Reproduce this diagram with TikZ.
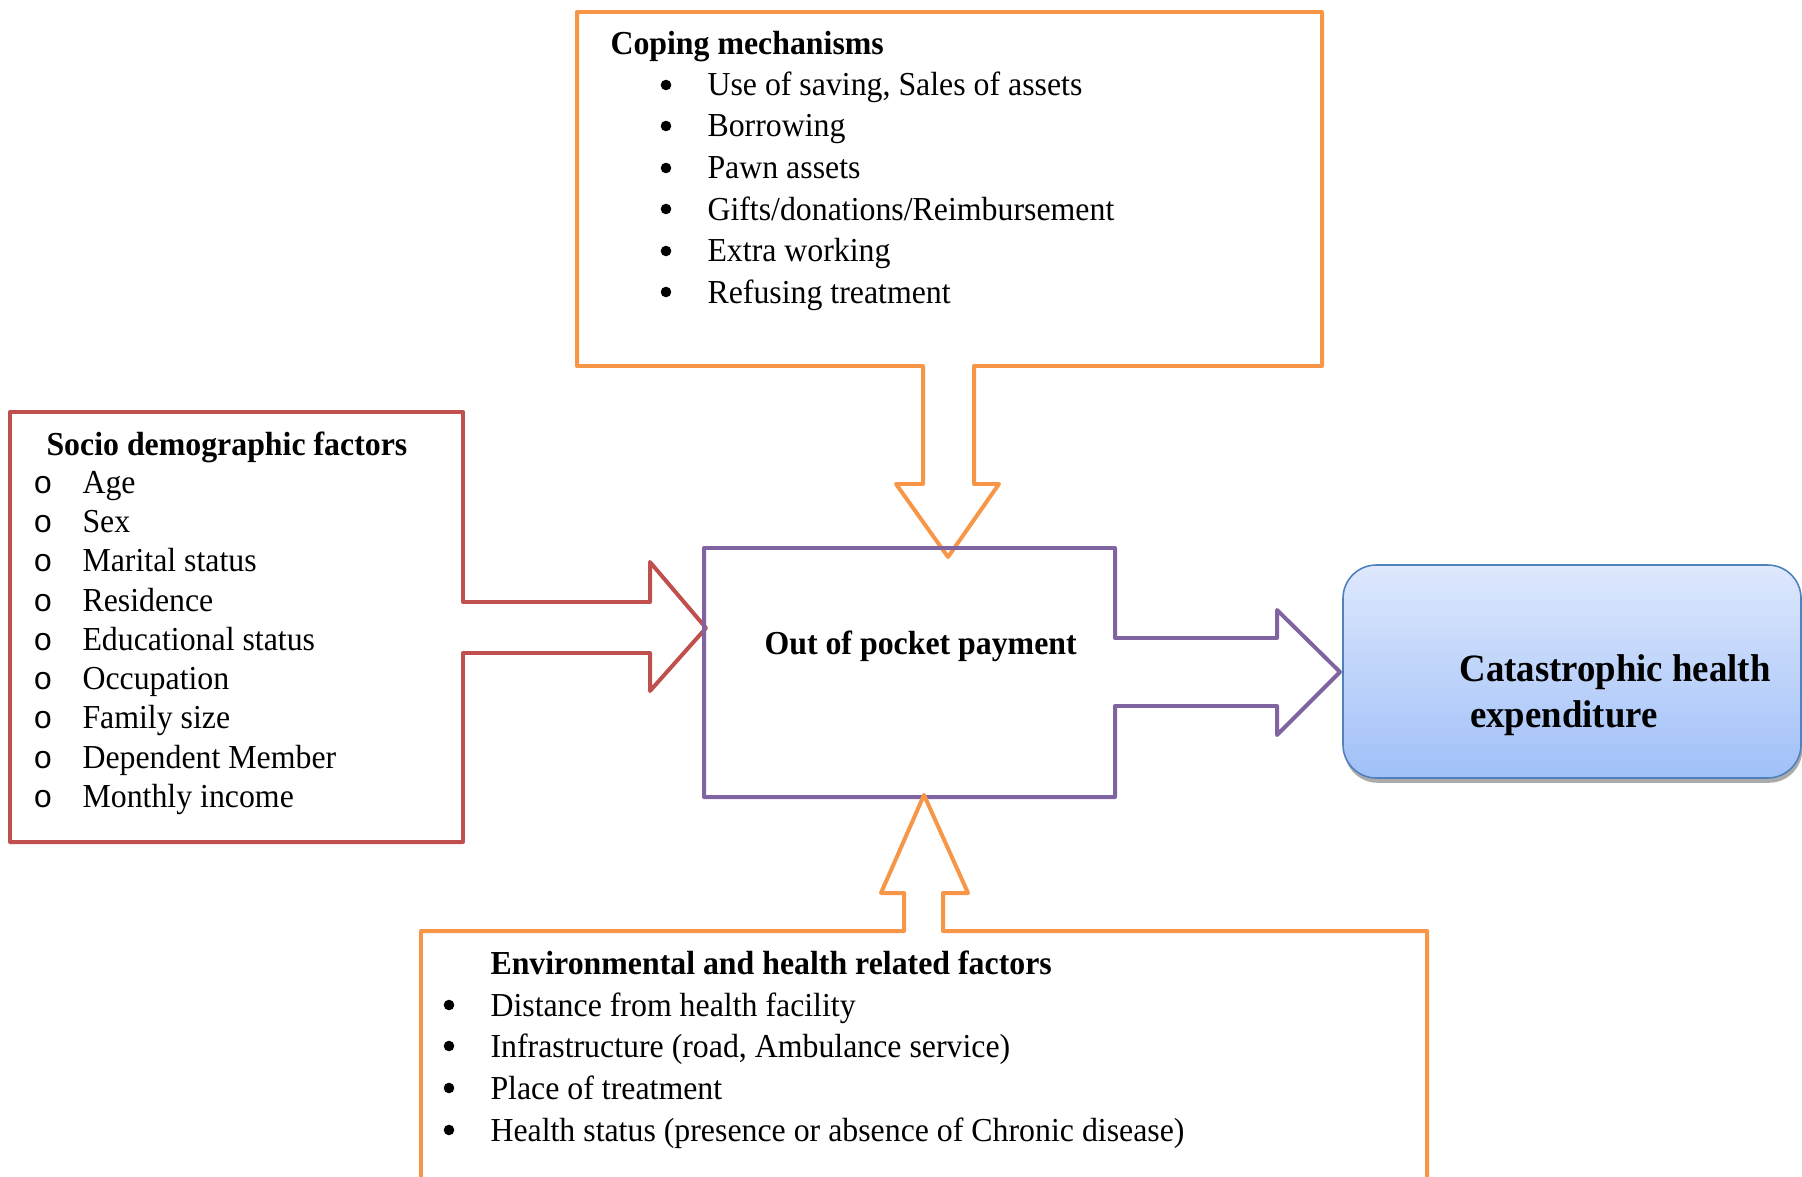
\documentclass[tikz,border=0pt]{standalone}
\usepackage{fontspec}
\setmainfont{Liberation Serif}[FakeStretch=0.95]
\newfontfamily\ringfont{Liberation Mono}
\usetikzlibrary{calc}
\usetikzlibrary{shadows}

\definecolor{copeorange}{HTML}{F79646}
\definecolor{socred}{HTML}{C0504D}
\definecolor{ooppurple}{HTML}{8064A2}
\definecolor{catblue}{HTML}{4F81BD}
\definecolor{cattop}{HTML}{DEE8FD}
\definecolor{catbot}{HTML}{A0C0F8}

\newcommand{\Bf}{\fontsize{12.6}{15}\selectfont}

\tikzset{
  box line/.style={line width=1.5pt, line join=round},
  list text/.style={anchor=base west, inner sep=0pt, font=\Bf},
  head text/.style={list text, font=\Bf\bfseries},
  dot mark/.style={circle, fill=black, inner sep=0pt, minimum size=0.14cm},
  ring mark/.style={anchor=base, inner sep=0pt, font=\ringfont\fontsize{12}{14}\selectfont},
  cat box/.style={draw=catblue, line width=0.6pt, top color=cattop, bottom color=catbot,
    rounded corners=0.44cm,
    drop shadow={shadow xshift=0.5pt, shadow yshift=-1.8pt, fill=black!55, opacity=0.6}},
}

\begin{document}
\begin{tikzpicture}[x=0.01322cm, y=-0.01322cm]
\useasboundingbox (0,0) rectangle (1802,1177);

%%%%%%%%%%%%%%%%%%%%%%%%%%%%%%%%%%%%%%%%%%%%%%%%%%%%%%%%%%%%%% coping
\coordinate (C) at (577, 12);

\draw[box line, copeorange] (C) -- ($(C)+(745,0)$) -- ($(C)+(745,354)$)
  -- ($(C)+(397,354)$) -- ($(C)+(397,472)$) -- ($(C)+(422,472)$)
  -- ($(C)+(371,545)$)
  -- ($(C)+(319,472)$) -- ($(C)+(346,472)$) -- ($(C)+(346,354)$)
  -- ($(C)+(0,354)$) -- cycle;

\node[head text] (copehead) at ($(C)+(33,43)$) {Coping mechanisms};
\node[dot mark] (cdot1) at ($(C)+(89,73)$) {};
\node[dot mark] (cdot2) at ($(C)+(89,114)$) {};
\node[dot mark] (cdot3) at ($(C)+(89,156)$) {};
\node[dot mark] (cdot4) at ($(C)+(89,197)$) {};
\node[dot mark] (cdot5) at ($(C)+(89,239)$) {};
\node[dot mark] (cdot6) at ($(C)+(89,280)$) {};
\node[list text] (cope1) at ($(C)+(130,84)$) {Use of saving, Sales of assets};
\node[list text] (cope2) at ($(C)+(130,125)$) {Borrowing};
\node[list text] (cope3) at ($(C)+(130,167)$) {Pawn assets};
\node[list text] (cope4) at ($(C)+(130,208)$) {Gifts/donations/Reimbursement};
\node[list text] (cope5) at ($(C)+(130,250)$) {Extra working};
\node[list text] (cope6) at ($(C)+(130,291)$) {Refusing treatment};

%%%%%%%%%%%%%%%%%%%%%%%%%%%%%%%%%%%%%%%%%%%%%%%%%%%%%%%%%%%%%% socio
\coordinate (S) at (10, 412);

\draw[box line, socred] (S) -- ($(S)+(453,0)$) -- ($(S)+(453,190)$)
  -- ($(S)+(640,190)$) -- ($(S)+(640,150)$)
  -- ($(S)+(696,216)$)
  -- ($(S)+(640,279)$) -- ($(S)+(640,241)$) -- ($(S)+(453,241)$)
  -- ($(S)+(453,430)$) -- ($(S)+(0,430)$) -- cycle;

\node[head text] (sochead) at ($(S)+(36,43)$) {Socio demographic factors};
\node[ring mark] (sring1) at ($(S)+(33,81)$) {o};
\node[ring mark] (sring2) at ($(S)+(33,120)$) {o};
\node[ring mark] (sring3) at ($(S)+(33,159.5)$) {o};
\node[ring mark] (sring4) at ($(S)+(33,199)$) {o};
\node[ring mark] (sring5) at ($(S)+(33,238)$) {o};
\node[ring mark] (sring6) at ($(S)+(33,277)$) {o};
\node[ring mark] (sring7) at ($(S)+(33,316.5)$) {o};
\node[ring mark] (sring8) at ($(S)+(33,356)$) {o};
\node[ring mark] (sring9) at ($(S)+(33,395)$) {o};
\node[list text] (soc1) at ($(S)+(72,81)$) {Age};
\node[list text] (soc2) at ($(S)+(72,120)$) {Sex};
\node[list text] (soc3) at ($(S)+(72,159.5)$) {Marital status};
\node[list text] (soc4) at ($(S)+(72,199)$) {Residence};
\node[list text] (soc5) at ($(S)+(72,238)$) {Educational status};
\node[list text] (soc6) at ($(S)+(72,277)$) {Occupation};
\node[list text] (soc7) at ($(S)+(72,316.5)$) {Family size};
\node[list text] (soc8) at ($(S)+(72,356)$) {Dependent Member};
\node[list text] (soc9) at ($(S)+(72,395)$) {Monthly income};

%%%%%%%%%%%%%%%%%%%%%%%%%%%%%%%%%%%%%%%%%%%%%%%%%%%%%%%%%%%%%% out of pocket
\coordinate (O) at (704, 548);

\draw[box line, ooppurple] (O) -- ($(O)+(411,0)$) -- ($(O)+(411,90)$)
  -- ($(O)+(573,90)$) -- ($(O)+(573,62)$)
  -- ($(O)+(636,124)$)
  -- ($(O)+(573,187)$) -- ($(O)+(573,158)$) -- ($(O)+(411,158)$)
  -- ($(O)+(411,249)$) -- ($(O)+(0,249)$) -- cycle;

\node[head text] (oop) at ($(O)+(60,106)$) {Out of pocket payment};

%%%%%%%%%%%%%%%%%%%%%%%%%%%%%%%%%%%%%%%%%%%%%%%%%%%%%%%%%%%%%% environment
\coordinate (E) at (421, 931);

\draw[box line, copeorange] ($(E)+(0,250)$) -- (E) -- ($(E)+(483,0)$)
  -- ($(E)+(483,-38)$) -- ($(E)+(460,-38)$)
  -- ($(E)+(503,-136)$)
  -- ($(E)+(547,-38)$) -- ($(E)+(522,-38)$) -- ($(E)+(522,0)$)
  -- ($(E)+(1006,0)$) -- ($(E)+(1006,250)$);

\node[head text] (envhead) at ($(E)+(69,43)$) {Environmental and health related factors};
\node[dot mark] (edot1) at ($(E)+(28,74)$) {};
\node[dot mark] (edot2) at ($(E)+(28,115)$) {};
\node[dot mark] (edot3) at ($(E)+(28,157)$) {};
\node[dot mark] (edot4) at ($(E)+(28,199)$) {};
\node[list text] (env1) at ($(E)+(69,85)$) {Distance from health facility};
\node[list text] (env2) at ($(E)+(69,126)$) {Infrastructure (road, Ambulance service)};
\node[list text] (env3) at ($(E)+(69,168)$) {Place of treatment};
\node[list text] (env4) at ($(E)+(69,210)$) {Health status (presence or absence of Chronic disease)};

%%%%%%%%%%%%%%%%%%%%%%%%%%%%%%%%%%%%%%%%%%%%%%%%%%%%%%%%%%%%%% catastrophic
\coordinate (K) at (1343, 565);

\draw[cat box] (K) rectangle ($(K)+(458,213)$);
\node[anchor=west, inner sep=0pt, align=left, font=\fontsize{14.56}{17.3}\selectfont\bfseries]
  (cat) at ($(K)+(116,130)$) {Catastrophic health\\\hspace{4pt}expenditure};

\end{tikzpicture}
\end{document}
